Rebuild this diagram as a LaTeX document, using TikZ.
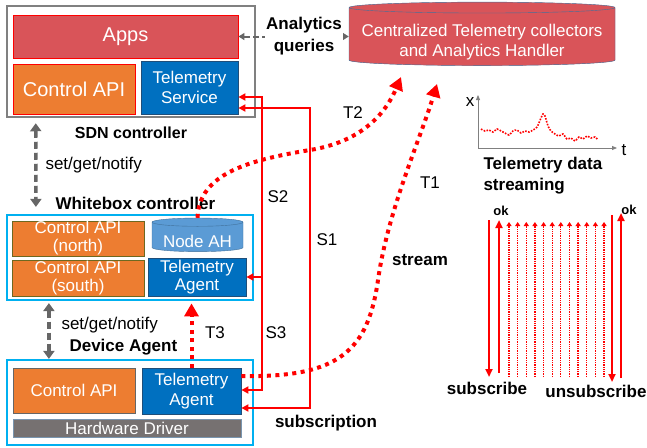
\documentclass[tikz,border=0pt]{standalone}
\usepackage{fontspec}
\setmainfont{Liberation Sans}
\usepackage{tikz}
\usetikzlibrary{arrows.meta,shapes.geometric,calc}
\definecolor{appred}{RGB}{217,84,89}
\definecolor{apiorange}{RGB}{237,125,49}
\definecolor{telblue}{RGB}{0,112,192}
\definecolor{navy}{RGB}{31,78,121}
\definecolor{ahblue}{RGB}{91,155,213}
\definecolor{ahedge}{RGB}{65,113,156}
\definecolor{boxcyan}{RGB}{0,176,240}
\definecolor{drvgray}{RGB}{118,113,113}
\definecolor{cyltop}{RGB}{232,152,155}

\begin{document}
\begin{tikzpicture}[x=1pt, y=-1pt, font=\fontsize{17}{18}\selectfont, >={Triangle[length=7pt,width=7pt]},
    blk/.style={draw, text=white, align=center, inner sep=0pt, line width=0.8pt},
    ctrlbox/.style={draw=boxcyan, line width=2.2pt, inner sep=0pt},
    lbl/.style={font=\fontsize{17}{21}\selectfont\bfseries},
    sub/.style={red, line width=1.8pt},
    tel/.style={red, line width=4pt, dash pattern=on 4pt off 4.5pt, -{Triangle[length=13pt,width=14pt]}},
    ctrl/.style={black!60, line width=3.5pt, dash pattern=on 7pt off 4pt, {Triangle[length=8pt,width=11pt]}-{Triangle[length=8pt,width=11pt]}},
    query/.style={black!60, line width=2pt, dash pattern=on 6pt off 3pt, {Triangle[length=6pt,width=7pt]}-{Triangle[length=6pt,width=7pt]}},
    seq/.style={red, line width=2.3pt, -{Triangle[length=8pt,width=7pt]}},
    msg/.style={red, line width=1.3pt, densely dotted, -{Triangle[length=4pt,width=5pt]}}]
\useasboundingbox (0,0) rectangle (647,447);

\node[draw=black!50, line width=2.5pt, minimum width=248, minimum height=111, inner sep=0pt] (sdn) at (131,61.5) {};
\node[blk, fill=appred, draw=red, minimum width=225, minimum height=43, font=\fontsize{20}{24}\selectfont] (apps) at (125.5,36.5) {Apps};
\node[blk, fill=apiorange, draw=red, minimum width=122, minimum height=50, font=\fontsize{20}{24}\selectfont] (sapi) at (74,89) {Control API};
\node[blk, fill=telblue, draw=navy, minimum width=97, minimum height=53, font=\fontsize{17}{20}\selectfont] (ts) at (189.5,87.5) {Telemetry\\Service};
\node[font=\fontsize{16}{19}\selectfont\bfseries] (sdnlbl) at (131,133) {SDN controller};

\node[ctrlbox, minimum width=246, minimum height=85] (wb) at (130,257.5) {};
\node[blk, fill=apiorange, draw=olive!70!black, minimum width=132, minimum height=35] (napi) at (78,238.5) {Control API\\(north)};
\node[blk, fill=apiorange, draw=olive!70!black, minimum width=132, minimum height=36] (sapi2) at (78,278) {Control API\\(south)};
\node[cylinder, shape border rotate=90, aspect=0.12, draw=ahedge, fill=ahblue, text=white, minimum width=91, minimum height=32, inner sep=0pt, text height=21pt, text depth=0pt] (nah) at (197.5,237) {Node AH};
\node[blk, fill=telblue, draw=navy, minimum width=98, minimum height=38] (wta) at (197,277) {Telemetry\\Agent};
\node[lbl, anchor=west] (wblbl) at (52,203) {Whitebox controller};

\node[ctrlbox, minimum width=246, minimum height=85] (dev) at (130,402.5) {};
\node[blk, fill=apiorange, draw=black!60, minimum width=122, minimum height=45] (dapi) at (74,390.5) {Control API};
\node[blk, fill=telblue, draw=navy, minimum width=99, minimum height=46, font=\fontsize{17}{20}\selectfont] (dta) at (191.5,391) {Telemetry\\Agent};
\node[blk, fill=drvgray, draw=navy!60, minimum width=228, minimum height=18] (drv) at (127,428) {Hardware Driver};
\node[lbl, anchor=west] (devlbl) at (66,347) {Device Agent};

\node[cylinder, shape border rotate=90, aspect=0.045, draw=ahedge, fill=appred, cylinder uses custom fill, cylinder body fill=appred, cylinder end fill=cyltop, text=white, align=center, minimum width=266, minimum height=60, inner sep=1pt, font=\fontsize{17}{20}\selectfont] (cen) at (482,37) {\rule{0pt}{22pt}Centralized Telemetry collectors\\and Analytics Handler};

\draw[query] (apps.east) -- (apps.east -| cen.west);
\node[lbl, fill=white, inner sep=1pt, align=center, font=\fontsize{17}{22}\selectfont\bfseries] (aq) at (304,36) {Analytics\\queries};

\draw[ctrl] ([xshift=30pt,yshift=-5pt]sdn.south west) -- ([xshift=30pt,yshift=7pt]wb.north west);
\node[anchor=west] (sgn1) at (42,165) {set/get/notify};
\draw[ctrl] ([xshift=43pt,yshift=-2pt]wb.south west) -- ([xshift=43pt]dev.north west);
\node[anchor=west] (sgn2) at (58,325) {set/get/notify};

\coordinate (s2) at (262,277);
\coordinate (s1) at (310,240);
\draw[sub,<->] ([yshift=-9.5pt]ts.east) -| (s2) |- ([yshift=1pt]dta.east);
\draw[sub,->] (s2) -- (wta);
\draw[sub,<->] ([yshift=-20.5pt]ts.east) -| (s1) |- ([yshift=-17pt]dta.east);
\node (s2lbl) at (278,197) {S2};
\node (s1lbl) at (327,240) {S1};
\node (s3lbl) at (276,333) {S3};
\node[lbl] (sublbl) at (326,423) {subscription};

\coordinate (t2) at (401,77);
\coordinate (t1) at (437,84);
\draw[tel, shorten >=7pt] (dta.north) -- (dta.north |- wta.south);
\draw[tel] (nah.north) .. controls (199,173) and (250,160) .. (310,150) .. controls (360,142) and (385,115) .. (t2);
\draw[tel] ([yshift=15pt]dta.east) .. controls (340,378) and (368,350) .. (378,280) .. controls (388,210) and (420,140) .. (t1);
\node (t3lbl) at (215,333) {T3};
\node (t2lbl) at (353,113) {T2};
\node (t1lbl) at (430,183) {T1};
\node[lbl] (strlbl) at (420,260) {stream};

\coordinate (o) at (478,148);
\draw[black!50, line width=0.8pt, -{Triangle[length=5pt,width=4pt]}] (o) -- (478,95);
\draw[black!50, line width=0.8pt, -{Triangle[length=5pt,width=4pt]}] (o) -- (617,148);
\node (xlbl) at (470,102) {x};
\node (tlbl) at (624,150) {t};
\draw[red, line width=1.6pt, dash pattern=on 1.6pt off 1.4pt] plot[smooth] coordinates {(481,129) (485,131) (489,130) (493,132) (497,129) (501,131) (505,133) (509,135) (513,131) (517,130) (521,133) (525,131) (529,132) (533,130) (537,127) (541,118) (543,114) (545,116) (548,126) (551,131) (555,134) (559,136) (563,134) (567,139) (571,138) (575,141) (579,137) (583,139) (587,136) (591,138) (595,137) (598,140)};
\node[lbl, align=left, anchor=west] (tdlbl) at (480,176) {Telemetry data\\streaming};

\draw[seq] (489,220) -- (489,377);
\draw[seq] (499,373) -- (499,220);
\foreach \i in {0,...,11} \draw[msg] ({509+8.64*\i},377) -- ({509+8.64*\i},222);
\draw[seq] (612,215) -- (612,382);
\draw[seq] (621,378) -- (621,213);
\node[font=\fontsize{13}{15}\selectfont\bfseries] (ok1) at (501,211) {ok};
\node[font=\fontsize{13}{15}\selectfont\bfseries] (ok2) at (629,210) {ok};
\node[lbl] (sblbl) at (487,388) {subscribe};
\node[lbl] (usblbl) at (596,391) {unsubscribe};
\end{tikzpicture}
\end{document}
